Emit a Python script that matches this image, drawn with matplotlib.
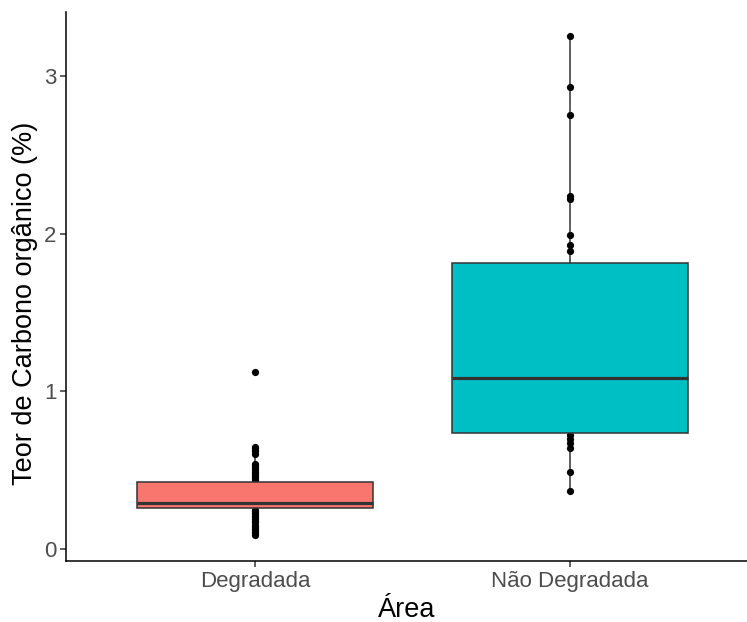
import matplotlib
matplotlib.use("Agg")
import matplotlib.pyplot as plt

# ----------------------------------------------------------------------
# data
# ----------------------------------------------------------------------
areas = ["Degradada", "Não Degradada"]
box_colors = ["#F8766D", "#00BFC4"]

q1 = [0.258, 0.737]
medians = [0.290, 1.085]
q3 = [0.425, 1.812]
whis_lo = [0.090, 0.368]
whis_hi = [0.650, 3.250]

pts_degradada = [1.12, 0.65, 0.64, 0.63, 0.62, 0.60, 0.54, 0.53, 0.52, 0.51,
                 0.50, 0.49, 0.48, 0.47, 0.46, 0.45, 0.44,
                 0.25, 0.24, 0.23, 0.22, 0.21, 0.20, 0.19, 0.18, 0.17,
                 0.15, 0.14, 0.13, 0.12, 0.11, 0.10, 0.09]
pts_nao_degradada = [3.25, 2.93, 2.75, 2.24, 2.22, 1.99, 1.93, 1.89,
                     0.72, 0.70, 0.67, 0.64, 0.49, 0.37]

y_ticks = [0, 1, 2, 3]

# ----------------------------------------------------------------------
plt.rcParams["font.family"] = ["Liberation Sans", "DejaVu Sans"]

fig = plt.figure(figsize=(7.47, 6.22), dpi=100)
ax = fig.add_axes([66 / 747, (622 - 561) / 622, 1 - 66 / 747, (561 - 12) / 622])

stats = []
for i, name in enumerate(areas):
    stats.append({"label": name, "q1": q1[i], "med": medians[i], "q3": q3[i],
                  "whislo": whis_lo[i], "whishi": whis_hi[i], "fliers": []})

positions = [1, 2]
edge = "#333333"
bp = ax.bxp(stats, positions=positions, widths=0.75, patch_artist=True,
            showcaps=False, showfliers=False,
            boxprops=dict(edgecolor=edge, linewidth=1.1, zorder=3),
            whiskerprops=dict(color=edge, linewidth=1.1, zorder=1),
            medianprops=dict(color=edge, linewidth=2.3, zorder=4, solid_capstyle="butt"))
for patch, c in zip(bp["boxes"], box_colors):
    patch.set_facecolor(c)

for pos, pts in zip(positions, [pts_degradada, pts_nao_degradada]):
    ax.scatter([pos] * len(pts), pts, s=27, color="black", zorder=2, linewidths=0)

ax.set_xlim(0.4, 0.4 + (747 - 66) / 315)
ax.set_ylim(-0.076, 3.405)
ax.set_yticks(y_ticks)
ax.set_yticklabels([str(t) for t in y_ticks])
ax.set_xticks(positions)
ax.set_xticklabels(areas)

for side in ("top", "right"):
    ax.spines[side].set_visible(False)
for side in ("left", "bottom"):
    ax.spines[side].set_color("black")
    ax.spines[side].set_linewidth(1.1)

ax.tick_params(axis="both", colors="#333333", length=4, width=1.1,
               labelcolor="#4D4D4D", labelsize=16, pad=3)
ax.set_xlabel("Área", fontsize=19.5, color="black", labelpad=4)
ax.set_ylabel("Teor de Carbono orgânico (%)", fontsize=19.5, color="black", labelpad=2)
ax.yaxis.set_label_coords(-28 / 681, 0.47)

fig.savefig("out.png", dpi=100)
